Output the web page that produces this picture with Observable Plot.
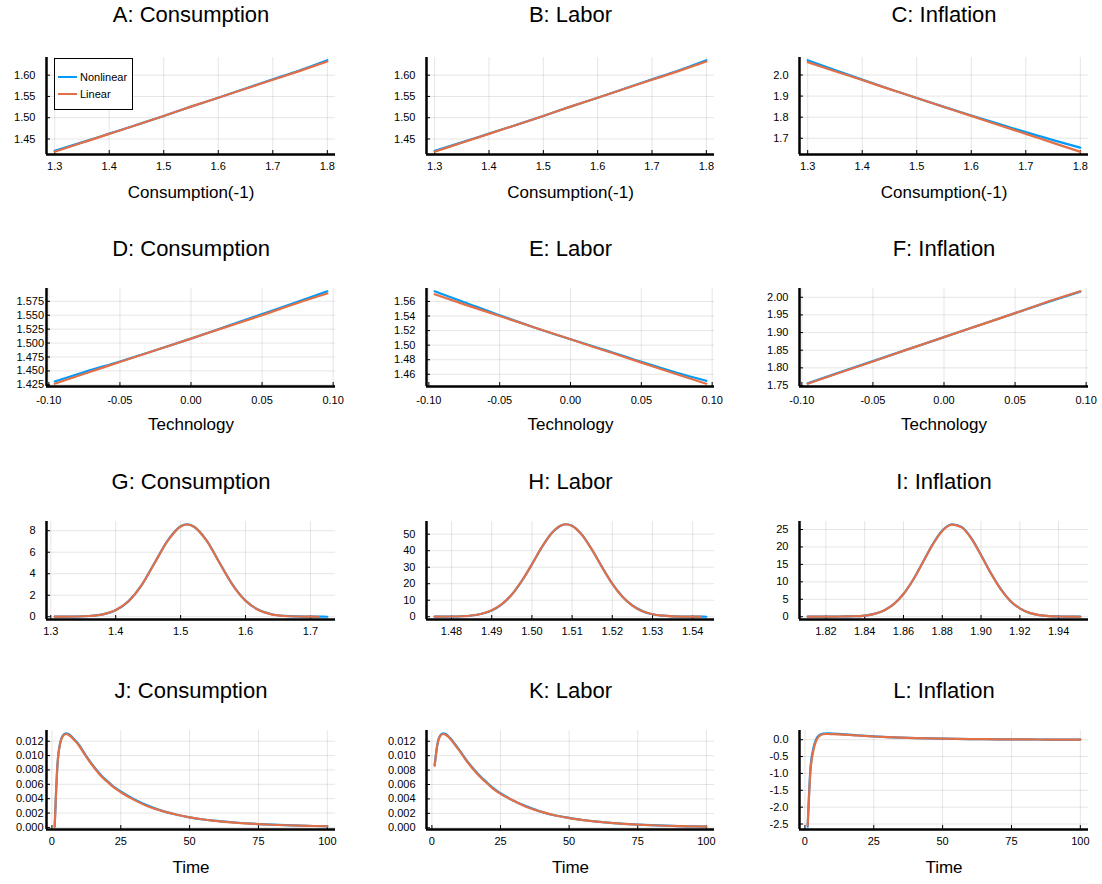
<!DOCTYPE html>
<html>
<head>
<meta charset="utf-8">
<script src="https://cdn.jsdelivr.net/npm/d3@7"></script>
<script src="https://cdn.jsdelivr.net/npm/@observablehq/plot@0.6"></script>
<style>
  body { margin: 0; background: #fff; }
  #root { position: relative; width: 1102px; height: 884px; overflow: hidden; background: #fff;
          font-family: "Liberation Sans", Arial, sans-serif; }
  .panel { position: absolute; }
  .legend { position: absolute; box-sizing: border-box; background: #fff; border: 1.3px solid #000; }
  .legend .row { position: absolute; left: 0; height: 14px; }
  .legend .sw { position: absolute; left: 3px; top: 6px; width: 19px; height: 2px; }
  .legend .lb { position: absolute; left: 25px; top: 0; font-size: 11px; line-height: 14px; color: #000; white-space: nowrap; }
</style>
</head>
<body>
<div id="root"></div>
<script>
// ---------------- DATA ----------------
const seriesNames = ["Nonlinear", "Linear"];

// Row 1: policy functions vs Consumption(-1)
const consLag = [1.30, 1.35, 1.40, 1.45, 1.50, 1.55, 1.60, 1.65, 1.70, 1.75, 1.80];
const aNonlin = [1.422, 1.442, 1.4625, 1.483, 1.504, 1.526, 1.547, 1.5685, 1.590, 1.6115, 1.635];
const aLin    = [1.420, 1.441, 1.462, 1.483, 1.504, 1.526, 1.547, 1.568, 1.589, 1.610, 1.632];
const bNonlin = [1.422, 1.442, 1.4625, 1.483, 1.504, 1.526, 1.547, 1.5685, 1.590, 1.6115, 1.635];
const bLin    = [1.420, 1.441, 1.462, 1.483, 1.504, 1.526, 1.547, 1.568, 1.589, 1.610, 1.632];
const cNonlin = [2.070, 2.023, 1.978, 1.934, 1.891, 1.849, 1.808, 1.768, 1.729, 1.691, 1.655];
const cLin    = [2.061, 2.018, 1.976, 1.933, 1.891, 1.848, 1.806, 1.763, 1.721, 1.678, 1.636];

// Row 2: policy functions vs Technology
const tech    = [-0.0959, -0.075, -0.05, -0.025, 0, 0.025, 0.05, 0.075, 0.0959];
const dNonlin = [1.431, 1.448, 1.467, 1.487, 1.508, 1.530, 1.552, 1.574, 1.593];
const dLin    = [1.427, 1.445, 1.466, 1.487, 1.508, 1.529, 1.550, 1.572, 1.589];
const eNonlin = [1.574, 1.559, 1.541, 1.524, 1.508, 1.493, 1.477, 1.462, 1.451];
const eLin    = [1.570, 1.556, 1.540, 1.524, 1.508, 1.492, 1.476, 1.460, 1.447];
const fNonlin = [1.756, 1.785, 1.819, 1.853, 1.887, 1.921, 1.955, 1.989, 2.016];
const fLin    = [1.755, 1.784, 1.818, 1.853, 1.887, 1.921, 1.955, 1.990, 2.017];

// Row 3: ergodic densities
const gX      = [1.306, 1.32, 1.34, 1.36, 1.38, 1.40, 1.42, 1.44, 1.46, 1.48, 1.50, 1.51, 1.52, 1.54, 1.56, 1.58, 1.60, 1.62, 1.64, 1.66, 1.68, 1.70, 1.712, 1.72, 1.726];
const gNonlin = [0.01, 0.01, 0.02, 0.07, 0.22, 0.60, 1.45, 2.93, 5.02, 7.08, 8.42, 8.60, 8.40, 7.10, 5.02, 2.99, 1.50, 0.64, 0.23, 0.08, 0.03, 0.01, 0.01, 0.005, 0.0];
const gLin    = [0.01, 0.01, 0.02, 0.07, 0.22, 0.62, 1.47, 2.95, 5.00, 7.05, 8.40, 8.58, 8.40, 7.08, 5.00, 2.97, 1.48, 0.63, 0.22, 0.07, 0.02, 0.01, 0.0, null, null];

const hX      = [1.4758, 1.48, 1.4825, 1.485, 1.4875, 1.49, 1.4925, 1.495, 1.4975, 1.50, 1.5025, 1.505, 1.5075, 1.5085, 1.51, 1.5125, 1.515, 1.5175, 1.52, 1.5225, 1.525, 1.5275, 1.53, 1.5325, 1.535, 1.5375, 1.54, 1.542, 1.5434];
const hNonlin = [0.1, 0.15, 0.3, 0.75, 1.8, 3.8, 7.5, 13.4, 21.7, 31.7, 42.2, 50.8, 55.5, 56.0, 55.1, 49.5, 40.4, 29.9, 20.0, 12.2, 6.8, 3.4, 1.5, 0.63, 0.24, 0.1, 0.05, 0.02, 0.01];
const hLin    = [0.1, 0.15, 0.3, 0.75, 1.8, 3.9, 7.6, 13.5, 21.8, 31.8, 42.3, 50.9, 55.6, 56.0, 55.0, 49.4, 40.3, 29.8, 19.9, 12.1, 6.7, 3.3, 1.5, 0.62, 0.23, 0.1, 0.05, 0.02, null];

const iX      = [1.8106, 1.815, 1.82, 1.825, 1.83, 1.835, 1.84, 1.845, 1.85, 1.855, 1.86, 1.865, 1.87, 1.875, 1.88, 1.885, 1.89, 1.895, 1.90, 1.905, 1.91, 1.915, 1.92, 1.925, 1.93, 1.935, 1.94, 1.945, 1.9512];
const iNonlin = [0.02, 0.02, 0.03, 0.05, 0.08, 0.14, 0.34, 0.82, 1.8, 3.6, 6.5, 10.6, 15.6, 20.7, 24.7, 26.5, 25.7, 22.5, 17.7, 12.6, 8.1, 4.6, 2.4, 1.1, 0.48, 0.18, 0.07, 0.03, 0.01];
const iLin    = [0.02, 0.02, 0.03, 0.05, 0.08, 0.13, 0.32, 0.81, 1.8, 3.6, 6.5, 10.6, 15.6, 20.6, 24.6, 26.4, 25.6, 22.4, 17.6, 12.5, 8.0, 4.6, 2.4, 1.1, 0.47, 0.18, 0.06, 0.02, 0.0];

// Row 4: impulse responses
const time    = [1, 2, 3, 4, 5, 6, 7, 8, 9, 10, 12, 14, 16, 18, 20, 22, 25, 30, 35, 40, 45, 50, 55, 60, 65, 70, 75, 80, 85, 90, 95, 100];
const jNonlin = [0.0001, 0.0087, 0.0118, 0.0128, 0.0131, 0.0130, 0.0127, 0.0123, 0.0119, 0.0114, 0.0102, 0.0091, 0.0081, 0.0072, 0.0065, 0.0058, 0.0050, 0.0039, 0.0030, 0.0023, 0.0018, 0.0014, 0.0011, 0.0009, 0.00072, 0.00058, 0.00047, 0.00038, 0.00031, 0.00025, 0.0002, 0.00016];
const jLin    = [0.0001, 0.0086, 0.0117, 0.0127, 0.0130, 0.0129, 0.0126, 0.0122, 0.0118, 0.0113, 0.0101, 0.0090, 0.0080, 0.0071, 0.0064, 0.0057, 0.0049, 0.0038, 0.0029, 0.0023, 0.0018, 0.0014, 0.0011, 0.00088, 0.0007, 0.00056, 0.00046, 0.00037, 0.0003, 0.00024, 0.0002, 0.00016];
const kNonlin = [0.0087, 0.0116, 0.0128, 0.0131, 0.0130, 0.0127, 0.0123, 0.0118, 0.0113, 0.0108, 0.0097, 0.0087, 0.0078, 0.0070, 0.0063, 0.0056, 0.0048, 0.0037, 0.0029, 0.0022, 0.0017, 0.00137, 0.00108, 0.00086, 0.00069, 0.00055, 0.00044, 0.00036, 0.00029, 0.00023, 0.00019, 0.00015];
const kLin    = [0.0086, 0.0115, 0.0127, 0.0130, 0.0129, 0.0126, 0.0122, 0.0117, 0.0112, 0.0107, 0.0096, 0.0086, 0.0077, 0.0069, 0.0062, 0.0055, 0.0047, 0.0037, 0.0028, 0.0022, 0.0017, 0.00135, 0.00107, 0.00085, 0.00068, 0.00054, 0.00043, 0.00035, 0.00028, 0.00023, 0.00019, 0.00015];
const lNonlin = [-2.58, -0.85, -0.28, 0.0, 0.12, 0.17, 0.185, 0.19, 0.188, 0.183, 0.172, 0.16, 0.148, 0.136, 0.124, 0.112, 0.096, 0.075, 0.06, 0.047, 0.037, 0.03, 0.024, 0.019, 0.015, 0.012, 0.01, 0.008, 0.006, 0.005, 0.004, 0.003];
const lLin    = [-2.55, -0.95, -0.35, -0.05, 0.09, 0.15, 0.17, 0.17, 0.168, 0.165, 0.158, 0.15, 0.14, 0.13, 0.12, 0.11, 0.095, 0.075, 0.06, 0.048, 0.038, 0.03, 0.024, 0.019, 0.015, 0.012, 0.01, 0.008, 0.006, 0.005, 0.004, 0.003];

// Tick values
const ticksConsLag = [1.3, 1.4, 1.5, 1.6, 1.7, 1.8];
const ticksTech    = [-0.10, -0.05, 0.00, 0.05, 0.10];
const ticksTime    = [0, 25, 50, 75, 100];
const ticksGx      = [1.3, 1.4, 1.5, 1.6, 1.7];
const ticksHx      = [1.48, 1.49, 1.50, 1.51, 1.52, 1.53, 1.54];
const ticksIx      = [1.82, 1.84, 1.86, 1.88, 1.90, 1.92, 1.94];
const ticksYab     = [1.45, 1.50, 1.55, 1.60];
const ticksYc      = [1.7, 1.8, 1.9, 2.0];
const ticksYd      = [1.425, 1.450, 1.475, 1.500, 1.525, 1.550, 1.575];
const ticksYe      = [1.46, 1.48, 1.50, 1.52, 1.54, 1.56];
const ticksYf      = [1.75, 1.80, 1.85, 1.90, 1.95, 2.00];
const ticksYg      = [0, 2, 4, 6, 8];
const ticksYh      = [0, 10, 20, 30, 40, 50];
const ticksYi      = [0, 5, 10, 15, 20, 25];
const ticksYjk     = [0, 0.002, 0.004, 0.006, 0.008, 0.010, 0.012];
const ticksYl      = [-2.5, -2.0, -1.5, -1.0, -0.5, 0.0];

// ---------------- LAYOUT / STYLE ----------------
const BLUE = "#009AFA", ORANGE = "#E36F47";
const FONT = '"Liberation Sans", Arial, sans-serif';
const colLeft  = [45.5, 426, 799];
const colRight = [334.5, 714, 1088];
const rowTop    = [57, 288, 521, 730];
const rowBottom = [154, 386, 619, 829];
const titleDy   = [43, 40, 40, 39.5];
const xTickPad  = [8, 10, 8, 8];

const fx = n => d => d.toFixed(n);

const panels = [
  {title: "A: Consumption", xlabel: "Consumption(-1)", x: consLag, ys: [aNonlin, aLin], xt: ticksConsLag, xf: fx(1), yt: ticksYab, yf: fx(2), r: 0, c: 0},
  {title: "B: Labor",       xlabel: "Consumption(-1)", x: consLag, ys: [bNonlin, bLin], xt: ticksConsLag, xf: fx(1), yt: ticksYab, yf: fx(2), r: 0, c: 1},
  {title: "C: Inflation",   xlabel: "Consumption(-1)", x: consLag, ys: [cNonlin, cLin], xt: ticksConsLag, xf: fx(1), yt: ticksYc,  yf: fx(1), r: 0, c: 2},
  {title: "D: Consumption", xlabel: "Technology", x: tech, ys: [dNonlin, dLin], xt: ticksTech, xf: fx(2), yt: ticksYd, yf: fx(3), r: 1, c: 0, yPad: 2.5},
  {title: "E: Labor",       xlabel: "Technology", x: tech, ys: [eNonlin, eLin], xt: ticksTech, xf: fx(2), yt: ticksYe, yf: fx(2), r: 1, c: 1},
  {title: "F: Inflation",   xlabel: "Technology", x: tech, ys: [fNonlin, fLin], xt: ticksTech, xf: fx(2), yt: ticksYf, yf: fx(2), r: 1, c: 2},
  {title: "G: Consumption", xlabel: null, x: gX, ys: [gNonlin, gLin], xt: ticksGx, xf: fx(1), yt: ticksYg, yf: fx(0), r: 2, c: 0},
  {title: "H: Labor",       xlabel: null, x: hX, ys: [hNonlin, hLin], xt: ticksHx, xf: fx(2), yt: ticksYh, yf: fx(0), r: 2, c: 1},
  {title: "I: Inflation",   xlabel: null, x: iX, ys: [iNonlin, iLin], xt: ticksIx, xf: fx(2), yt: ticksYi, yf: fx(0), r: 2, c: 2},
  {title: "J: Consumption", xlabel: "Time", x: time, ys: [jNonlin, jLin], xt: ticksTime, xf: fx(0), yt: ticksYjk, yf: fx(3), r: 3, c: 0, yPad: 3},
  {title: "K: Labor",       xlabel: "Time", x: time, ys: [kNonlin, kLin], xt: ticksTime, xf: fx(0), yt: ticksYjk, yf: fx(3), r: 3, c: 1},
  {title: "L: Inflation",   xlabel: "Time", x: time, ys: [lNonlin, lLin], xt: ticksTime, xf: fx(0), yt: ticksYl,  yf: fx(1), r: 3, c: 2},
];

// Julia/Plots-style limits: data extent widened by 3% on each side
function widen(vals) {
  const [lo, hi] = d3.extent(vals.filter(v => v != null));
  const pad = (hi - lo) * 0.03;
  return [lo - pad, hi + pad];
}

const root = document.getElementById("root");
const mL = 60, mR = 20, mT = 55, mB = 55;

for (const p of panels) {
  const left = colLeft[p.c], right = colRight[p.c];
  const top = rowTop[p.r], bottom = rowBottom[p.r];
  const fw = right - left, fh = bottom - top;
  const xd = widen(p.x);
  const yd = widen(p.ys.flat());
  const rows = p.ys.map((ys, si) => p.x.map((x, i) => ({x, y: ys[i], s: seriesNames[si]})));
  const colors = [BLUE, ORANGE];
  const marks = [
    Plot.gridX(p.xt, {stroke: "#000", strokeOpacity: 0.1, strokeWidth: 1}),
    Plot.gridY(p.yt, {stroke: "#000", strokeOpacity: 0.1, strokeWidth: 1}),
    Plot.axisX(p.xt, {tickSize: 0, tickPadding: xTickPad[p.r], tickFormat: p.xf, fontSize: 11, label: null}),
    Plot.axisY(p.yt, {tickSize: 0, tickPadding: p.yPad ?? 11, tickFormat: p.yf, fontSize: 11, label: null}),
    Plot.tickX(p.xt, {x: d => d, insetTop: fh - 4, stroke: "#000", strokeWidth: 1}),
    Plot.tickY(p.yt, {y: d => d, insetRight: fw - 4, stroke: "#000", strokeWidth: 1}),
    ...rows.map((r, si) => Plot.line(r, {x: "x", y: "y", stroke: colors[si], strokeWidth: 2.2, curve: "monotone-x"})),
    Plot.ruleX([xd[0]], {stroke: "#000", strokeWidth: 2.5}),
    Plot.ruleY([yd[0]], {stroke: "#000", strokeWidth: 2.5}),
    Plot.text([p.title], {text: d => d, frameAnchor: "top", dy: -titleDy[p.r], fontSize: 22, lineAnchor: "middle", fill: "#000"}),
  ];
  if (p.xlabel) marks.push(Plot.text([p.xlabel], {text: d => d, frameAnchor: "bottom", dy: 38.5, fontSize: 17, lineAnchor: "middle", fill: "#000"}));
  const svg = Plot.plot({
    width: fw + mL + mR, height: fh + mT + mB,
    marginLeft: mL, marginRight: mR, marginTop: mT, marginBottom: mB,
    style: {fontFamily: FONT, background: "transparent", overflow: "visible", color: "#000"},
    x: {domain: xd}, y: {domain: yd},
    marks
  });
  svg.classList.add("panel");
  svg.style.position = "absolute";
  svg.style.left = (left - mL) + "px";
  svg.style.top = (top - mT) + "px";
  root.appendChild(svg);
}

// Legend for panel A
const leg = document.createElement("div");
leg.className = "legend";
Object.assign(leg.style, {left: "54px", top: "58px", width: "79px", height: "52px"});
[[seriesNames[0], BLUE, 11], [seriesNames[1], ORANGE, 28.3]].forEach(([name, col, y]) => {
  const row = document.createElement("div");
  row.className = "row";
  row.style.top = y + "px";
  row.style.width = "100%";
  const sw = document.createElement("div");
  sw.className = "sw"; sw.style.background = col;
  const lb = document.createElement("div");
  lb.className = "lb"; lb.textContent = name;
  row.appendChild(sw); row.appendChild(lb);
  leg.appendChild(row);
});
root.appendChild(leg);
</script>
</body>
</html>
